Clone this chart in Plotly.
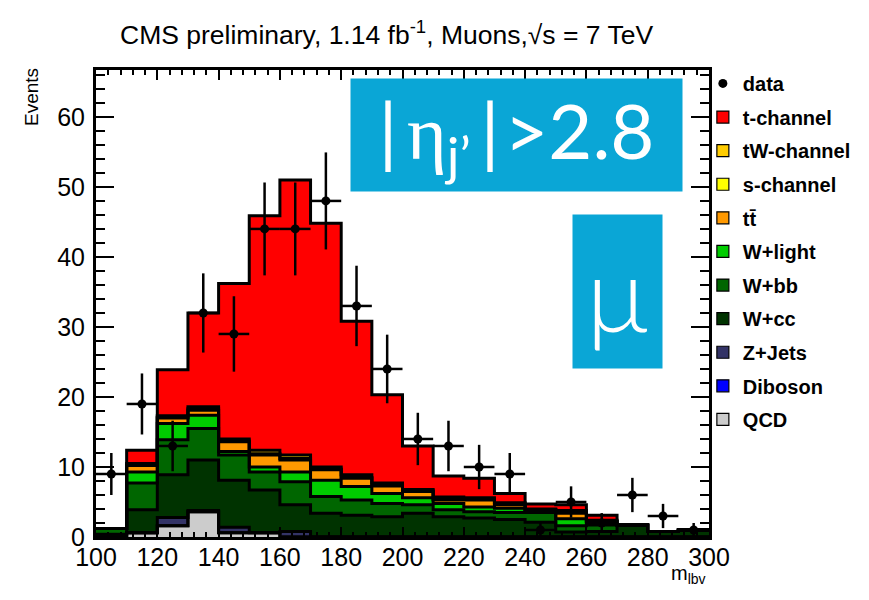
import numpy as np
import plotly.graph_objects as go

# ---------------- data ----------------
bin_edges = list(range(100, 310, 10))
bin_centers = [105 + 10 * i for i in range(20)]

data = [9, 19, 13, 32, 29, 44, 44, 48, 33, 24, 14, 13, 10, 9, 1, 5, 2, 6, 3, 1]

qcd     = [0.0, 0.6, 1.6, 3.6, 0.6, 0.6, 0.0, 0, 0, 0, 0, 0, 0, 0, 0, 0, 0, 0, 0, 0]
diboson = [0.0] * 20
zjets   = [0.0, 0.0, 1.2, 0.2, 0.8, 0.0, 0.8, 0, 0, 0, 0, 0, 0, 0, 0, 0, 0, 0, 0, 0]
wcc     = [0.4, 3.3, 6.1, 7.2, 6.7, 6.1, 3.8, 3.4, 3.1, 2.9, 3.4, 2.9, 2.7, 2.5, 2.1, 0.7, 0.8, 1.7, 0.8, 1.0]
wbb     = [0.8, 3.8, 5.0, 4.5, 3.6, 2.6, 3.3, 2.4, 2.2, 1.9, 1.2, 1.0, 0.9, 1.0, 1.4, 0.9, 0.9, 0, 0, 0]
wlight  = [0.0, 1.6, 2.3, 1.9, 0.5, 0.7, 1.4, 2.3, 1.9, 1.4, 1.0, 0.9, 0.7, 0.6, 0.1, 1.0, 0.1, 0, 0, 0]
ttbar   = [0.0, 0.9, 0.8, 0.7, 1.4, 1.7, 1.7, 1.5, 1.2, 1.1, 0.9, 0.5, 1.0, 0.5, 0.3, 0.8, 0.4, 0, 0, 0]
schan   = [0.0, 0.1, 0.1, 0.2, 0.1, 0.2, 0.2, 0.1, 0.1, 0.1, 0.1, 0.1, 0.1, 0.1, 0.0, 0.1, 0.0, 0, 0, 0]
twchan  = [0.0, 0.2, 0.2, 0.3, 0.3, 0.5, 0.5, 0.3, 0.4, 0.3, 0.2, 0.3, 0.2, 0.2, 0.1, 0.3, 0.2, 0, 0, 0]
tchan   = [0.0, 1.9, 6.6, 13.4, 22.2, 33.5, 39.3, 34.8, 21.9, 12.6, 6.2, 3.0, 2.8, 1.3, 0.7, 0.8, 0.7, 0, 0, 0]

# stack order bottom -> top
layers = [
    ("QCD", qcd, "#cccccc"),
    ("Diboson", diboson, "#0000ff"),
    ("Z+Jets", zjets, "#333366"),
    ("W+cc", wcc, "#003300"),
    ("W+bb", wbb, "#006600"),
    ("W+light", wlight, "#00cc00"),
    ("tt̄", ttbar, "#ff9900"),
    ("s-channel", schan, "#ffff00"),
    ("tW-channel", twchan, "#ffcc00"),
    ("t-channel", tchan, "#ff0000"),
]

fig = go.Figure()

n = len(bin_centers)
nl = len(layers)
# filled stacked bars (legend entries)
for i, (name, vals, col) in enumerate(layers):
    fig.add_trace(go.Bar(
        x=bin_centers, y=vals, width=[10] * n, name=name,
        marker=dict(color=col,
                    line=dict(color=["black"] + [col] * (n - 1), width=1.2)),
        legendgroup=name, legendrank=2 + (nl - 1 - i), hoverinfo="skip",
    ))

# step outlines of the cumulative stack
cum = np.zeros(n)
for name, vals, col in layers:
    cum = cum + np.array(vals)
    fig.add_trace(go.Scatter(
        x=bin_edges, y=list(cum) + [cum[-1]], mode="lines",
        line=dict(color="black", width=3, shape="hv"),
        showlegend=False, hoverinfo="skip",
    ))

# data points
fig.add_trace(go.Scatter(
    x=bin_centers, y=data, mode="markers", name="data",
    marker=dict(color="black", size=9),
    error_y=dict(type="data", array=list(np.sqrt(data)), color="black", thickness=2.5, width=0),
    error_x=dict(type="data", array=[5] * n, color="black", thickness=2.5, width=0),
    legendgroup="data", legendrank=1,
))

font_main = "Liberation Sans, Arial, sans-serif"

fig.update_layout(
    width=861, height=584,
    margin=dict(l=88, r=160, t=62, b=55, autoexpand=False),
    paper_bgcolor="white",
    plot_bgcolor="white",
    barmode="stack", bargap=0,
    font=dict(family=font_main, color="black"),
    title=dict(
        text="CMS preliminary, 1.14 fb<sup>-1</sup>, Muons,√s = 7 TeV",
        x=0.474, xref="paper", xanchor="center",
        y=1 - 27 / 584, yanchor="middle",
        font=dict(size=26.5, family=font_main, color="black"),
    ),
    xaxis=dict(
        range=[100, 300], tickvals=list(range(100, 320, 20)),
        ticks="inside", ticklen=10, tickwidth=2, tickcolor="black",
        minor=dict(ticks="inside", dtick=4, ticklen=5, tickwidth=2, tickcolor="black", showgrid=False),
        showline=True, linecolor="black", linewidth=3, mirror="allticks",
        showgrid=False, zeroline=False, ticklabelstandoff=-4,
        tickfont=dict(size=25, family=font_main, color="black"),
    ),
    yaxis=dict(
        range=[0, 66.7], tickvals=list(range(0, 70, 10)),
        ticks="inside", ticklen=18, tickwidth=2, tickcolor="black",
        minor=dict(ticks="inside", dtick=2, ticklen=9, tickwidth=2, tickcolor="black", showgrid=False),
        showline=True, linecolor="black", linewidth=3, mirror="allticks",
        showgrid=False, zeroline=False, ticklabelstandoff=3,
        tickfont=dict(size=25, family=font_main, color="black"),
    ),
    legend=dict(
        x=0.99, xanchor="left", y=1.013, yanchor="top",
        traceorder="grouped", tracegroupgap=4.6, maxheight=560,
        font=dict(size=20, family=font_main, color="black", weight="bold"),
        bgcolor="rgba(0,0,0,0)", borderwidth=0,
    ),
    annotations=[
        dict(text="Events", xref="paper", yref="paper",
             x=(24 - 88) / 613, y=(529 - 58) / 467, xanchor="center", yanchor="top",
             textangle=-90, showarrow=False,
             font=dict(size=19, family=font_main, color="black")),
        dict(text="m<sub>lbv</sub>", xref="paper", yref="paper",
             x=(700 - 88) / 613, y=(529 - 552) / 467, xanchor="right", yanchor="top",
             showarrow=False, font=dict(size=20, family=font_main, color="black")),
        dict(text="|&#8201;<span style='font-family:Liberation Serif'>η</span><sub>j’</sub>&#8201;|&#8202;>2.8",
             xref="paper", yref="paper",
             x=(350 - 96) / 613, y=(537 - 78) / 467, xanchor="left", yanchor="top",
             width=331, height=112, borderpad=0, bgcolor="#0aa6d6",
             showarrow=False, align="center", valign="middle",
             font=dict(size=76, family="Lato, DejaVu Sans, sans-serif", color="white", weight=400)),
        dict(text="µ",
             xref="paper", yref="paper",
             x=(572 - 96) / 613, y=(537 - 214) / 467, xanchor="left", yanchor="top",
             width=89, height=153, borderpad=0, bgcolor="#0aa6d6",
             showarrow=False, align="center", valign="middle",
             font=dict(size=104, family="Lato, DejaVu Sans, sans-serif", color="white", weight=300)),
    ],
)

fig.write_html("out.html")
